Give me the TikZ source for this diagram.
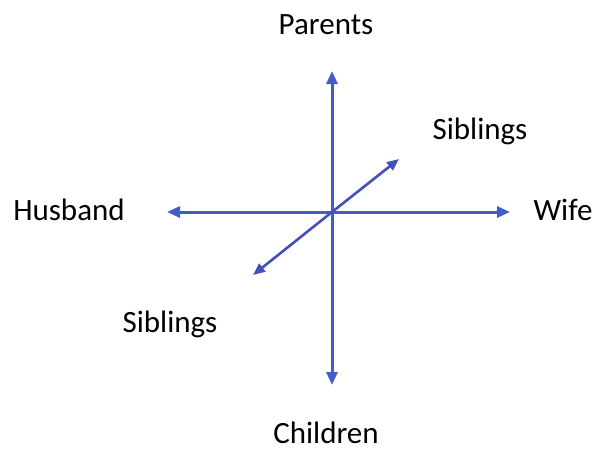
\documentclass[tikz,border=0pt]{standalone}
\usepackage{fontspec}
\setmainfont{Carlito}
\usetikzlibrary{arrows.meta}
\definecolor{axisblue}{RGB}{68,92,200}
\definecolor{diagblue}{RGB}{70,80,185}
\begin{document}
\begin{tikzpicture}[x=1pt,y=-1pt,
  lbl/.style={font=\fontsize{31}{36}\selectfont, text=black, inner sep=0pt},
  axis/.style={draw=axisblue, line width=3pt, -{Triangle[length=13pt,width=11pt]}},
  diag/.style={draw=diagblue, line width=2.6pt, -{Triangle[length=12pt,width=10pt]}}]
\useasboundingbox[fill=white] (0,0) rectangle (610,451);
\coordinate (o) at (332,212);
\coordinate (up) at (332,71);
\coordinate (down) at (332,385);
\coordinate (left) at (167,212);
\coordinate (right) at (510,212);
\coordinate (ur) at (399,159);
\coordinate (ll) at (253,275);
\draw[axis] (o) -- (up);
\draw[axis] (o) -- (down);
\draw[axis] (o) -- (left);
\draw[axis] (o) -- (right);
\draw[diag] (o) -- (ur);
\draw[diag] (o) -- (ll);
\node[lbl] (parents) at (326,25) {Parents};
\node[lbl] (sibur) at (480,131) {Siblings};
\node[lbl] (husband) at (69,210) {Husband};
\node[lbl] (wife) at (563,210) {Wife};
\node[lbl] (sibll) at (170,324) {Siblings};
\node[lbl] (children) at (326,433) {Children};
\end{tikzpicture}
\end{document}
